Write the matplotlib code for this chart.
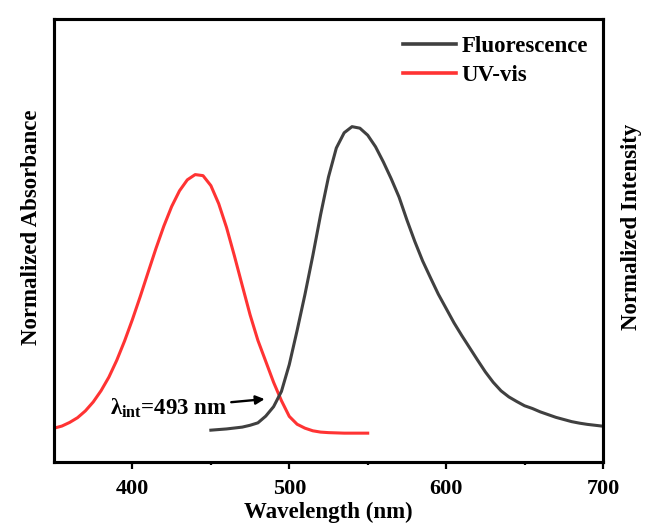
import matplotlib
matplotlib.use("Agg")
import matplotlib.pyplot as plt
from matplotlib.lines import Line2D

plt.rcParams['font.family'] = ['Liberation Serif', 'DejaVu Serif']
plt.rcParams['font.weight'] = 'bold'
plt.rcParams['mathtext.fontset'] = 'custom'
plt.rcParams['mathtext.rm'] = 'Liberation Serif'
plt.rcParams['mathtext.bf'] = 'Liberation Serif:bold'

# absorption spectrum (normalized)
uv_nm = [350, 355, 360, 365, 370, 375, 380, 385, 390, 395,
         400, 405, 410, 415, 420, 425, 430, 435, 440, 445,
         450, 455, 460, 465, 470, 475, 480, 485, 490, 495,
         500, 505, 510, 515, 520, 525, 530, 535, 540, 545, 550]
uv_abs = [0.030, 0.038, 0.052, 0.070, 0.096, 0.130, 0.173, 0.225, 0.289, 0.363,
          0.445, 0.533, 0.625, 0.716, 0.801, 0.876, 0.936, 0.978, 0.998, 0.994,
          0.956, 0.887, 0.796, 0.688, 0.575, 0.463, 0.365, 0.285, 0.205, 0.135,
          0.075, 0.045, 0.030, 0.020, 0.015, 0.013, 0.012, 0.011, 0.011, 0.011, 0.011]

# emission spectrum (normalized)
fl_nm = [450, 455, 460, 465, 470, 475, 480, 485, 490, 495,
         500, 505, 510, 515, 520, 525, 530, 535, 540, 545,
         550, 555, 560, 565, 570, 575, 580, 585, 590, 595,
         600, 605, 610, 615, 620, 625, 630, 635, 640, 645,
         650, 655, 660, 665, 670, 675, 680, 685, 690, 695, 700]
fl_int = [0.003, 0.005, 0.007, 0.010, 0.013, 0.019, 0.027, 0.049, 0.080, 0.130,
          0.218, 0.330, 0.448, 0.575, 0.710, 0.833, 0.928, 0.978, 0.998, 0.993,
          0.970, 0.932, 0.882, 0.827, 0.767, 0.692, 0.622, 0.558, 0.503, 0.449,
          0.402, 0.355, 0.313, 0.273, 0.233, 0.194, 0.160, 0.132, 0.112, 0.097,
          0.083, 0.074, 0.063, 0.054, 0.045, 0.038, 0.031, 0.026, 0.022, 0.019, 0.016]

x_ticks = [400, 500, 600, 700]
cross_label = r'λ$_{\mathrm{int}}$=493 nm'

fig = plt.figure(figsize=(6.46, 5.27), dpi=100)
ax = fig.add_axes([0.0836, 0.1224, 0.8498, 0.8416])
ax2 = ax.twinx()

uv_col = '#ff3333'
fl_col = '#404040'

ax.plot(uv_nm, uv_abs, color=uv_col, lw=2.2, solid_joinstyle='round')
ax2.plot(fl_nm, fl_int, color=fl_col, lw=2.2, solid_joinstyle='round')

ax.set_xlim(350, 700)
ax.set_ylim(-0.101, 1.592)
ax2.set_ylim(-0.103, 1.351)

ax.set_xticks(x_ticks)
ax.set_xticks([450, 550, 650], minor=True)
ax.tick_params(axis='x', which='major', direction='out', length=5, width=1.6,
               labelsize=16, pad=7)
ax.tick_params(axis='x', which='minor', direction='out', length=2.5, width=1.6)
ax.tick_params(axis='y', left=False, labelleft=False)
ax2.tick_params(axis='y', right=False, labelright=False)

for a in (ax, ax2):
    for s in a.spines.values():
        s.set_linewidth(2.2)

ax.set_xlabel('Wavelength (nm)', fontsize=16.5, fontweight='bold', labelpad=2)
fig.text(32 / 646, 1 - 227 / 527, 'Normalized Absorbance', rotation=90,
         ha='center', va='center', fontsize=16.5, fontweight='bold')
fig.text(632 / 646, 1 - 227 / 527, 'Normalized Intensity', rotation=90,
         ha='center', va='center', fontsize=16.5, fontweight='bold')

ax.annotate(cross_label, xy=(484.3, 0.141), xytext=(385.6, 0.107),
            ha='left', va='center', fontsize=16.5, fontweight='bold',
            arrowprops=dict(arrowstyle='-|>', color='black', lw=1.7,
                            mutation_scale=13, shrinkA=1, shrinkB=0))

handles = [Line2D([], [], color=fl_col, lw=2.6), Line2D([], [], color=uv_col, lw=2.6)]
ax2.legend(handles, ['Fluorescence', 'UV-vis'], loc='upper left',
           bbox_to_anchor=(0.636, 0.961), frameon=False, borderpad=0,
           borderaxespad=0, handlelength=2.3, handletextpad=0.25,
           labelspacing=0.35, prop={'size': 16.5, 'weight': 'bold'})

fig.savefig('out.png', dpi=100)
